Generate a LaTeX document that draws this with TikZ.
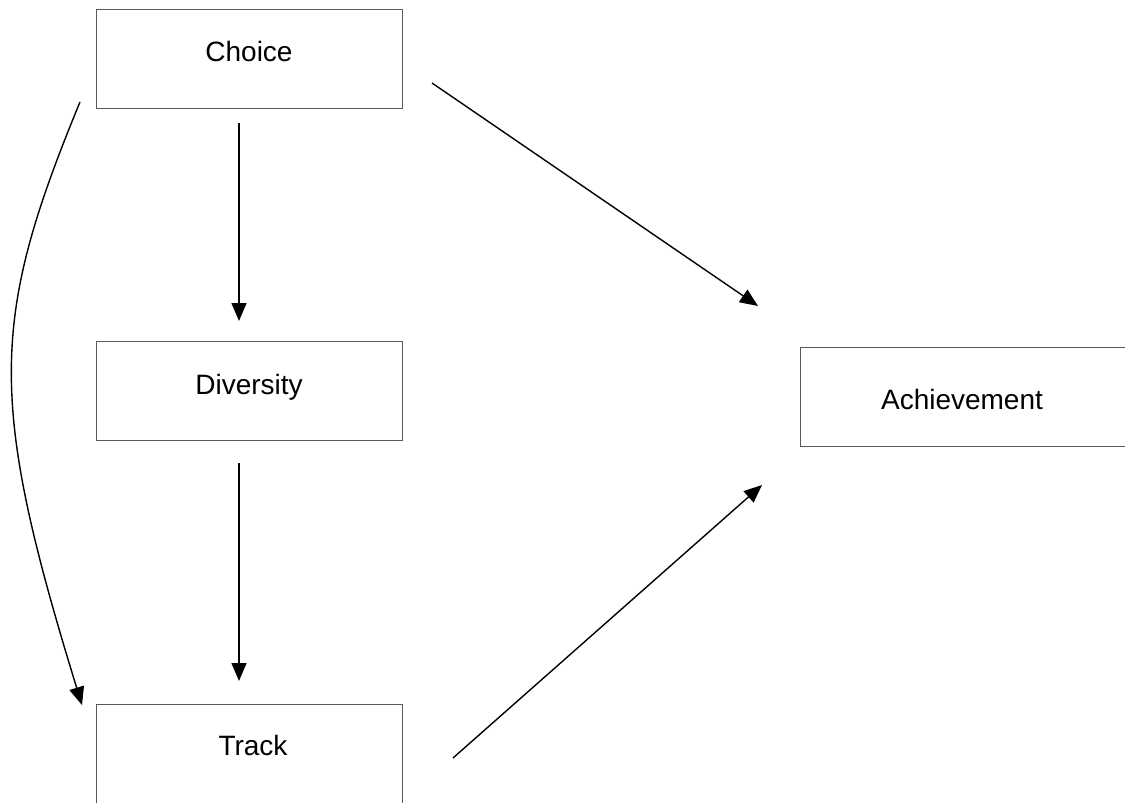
\documentclass[tikz,border=0pt]{standalone}
\usepackage{fontspec}
\setmainfont{Liberation Sans}
\usetikzlibrary{arrows.meta,calc}
\begin{document}
\begin{tikzpicture}[x=1pt,y=-1pt,
  box/.style={draw=black!65,line width=1pt,rectangle,minimum width=306pt,minimum height=99pt,inner sep=0pt,anchor=north west},
  lbl/.style={font=\fontsize{28}{32}\selectfont},
  link/.style={line width=1.4pt,-{Triangle[length=18pt,width=15pt]}}]
\clip (0,0) rectangle (1125,803);
\useasboundingbox (0,0) rectangle (1125,803);
% boxes
\node[box] (choice) at (96,9) {};
\node[box] (diversity) at (96,341) {};
\node[box,minimum width=340pt] (achievement) at (800,347) {};
\node[box,minimum height=110pt] (track) at (96,704) {};
% labels
\node[lbl] (tchoice) at (249,51) {Choice};
\node[lbl] (tdiversity) at (249,387) {Diversity};
\node[lbl] (tachievement) at (962,399) {Achievement};
\node[lbl] (ttrack) at (253,745) {Track};
% connectors
\draw[link] ($(choice.south west)+(143,14)$) -- ($(diversity.north west)+(143,-20)$);
\draw[link] ($(diversity.south west)+(143,22)$) -- ($(track.north west)+(143,-23)$);
\draw[link] ($(choice.south east)+(29,-26)$) -- ($(achievement.north west)+(-42,-41)$);
\draw[link] ($(track.north east)+(50,54)$) -- ($(achievement.south west)+(-38,38)$);
\draw[link] ($(choice.south west)+(-16,-7)$) .. controls (-10,320) and (-12,400) .. ($(track.north west)+(-14,1)$);
\end{tikzpicture}
\end{document}
